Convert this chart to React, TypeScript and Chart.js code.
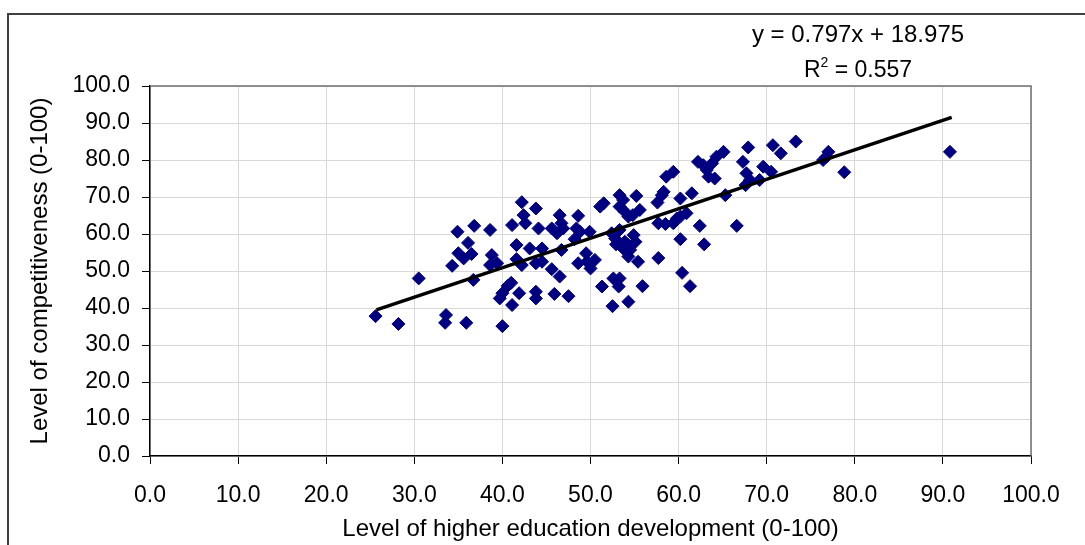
import React, { useEffect, useRef } from 'react';
import { Chart, registerables } from 'chart.js';

Chart.register(...registerables);

// Level of higher education development (0-100)
const educationX = [
  25.6, 28.2, 30.5, 33.6, 33.5, 35.9, 40.0, 34.3, 34.9, 36.8,
  38.6, 36.1, 35.0, 35.6, 36.5, 36.7, 38.8, 38.6, 39.4, 41.1,
  41.6, 42.2, 40.6, 41.0, 39.7, 40.0, 41.1, 41.6, 41.9, 43.8,
  42.4, 42.6, 44.1, 46.5, 48.6, 45.6, 46.2, 46.7, 46.9, 48.4,
  48.2, 48.8, 49.9, 43.1, 44.5, 42.2, 43.8, 44.5, 46.7, 45.6,
  46.5, 48.6, 49.5, 50.0, 50.5, 49.6, 43.8, 43.8, 45.9, 47.5,
  51.1, 51.5, 53.3, 53.7, 55.2, 53.3, 53.9, 55.6, 54.3, 54.8,
  52.4, 52.8, 53.3, 53.9, 54.3, 54.9, 55.1, 53.7, 54.5, 54.3,
  55.4, 57.7, 57.6, 58.1, 57.7, 58.5, 51.3, 52.6, 53.3, 53.2,
  55.9, 52.5, 54.3, 62.2, 62.8, 63.2, 63.8, 64.3, 65.1, 63.4,
  64.1, 67.9, 67.3, 67.7, 67.6, 68.1, 69.6, 70.5, 69.2, 70.7,
  71.6, 73.3, 58.6, 59.4, 58.3, 60.2, 61.5, 65.3, 59.4, 59.8,
  60.2, 60.9, 62.4, 66.6, 60.2, 62.9, 60.4, 61.3, 77.0, 76.4,
  76.8, 78.8, 90.8, 52.9,
];

// Level of competitiveness (0-100)
const competitivenessY = [
  37.8, 35.7, 48.0, 38.1, 36.0, 36.0, 35.1, 51.4, 60.6, 62.2,
  61.1, 57.6, 54.8, 53.4, 54.6, 47.6, 54.3, 51.6, 52.1, 62.4,
  57.0, 68.6, 46.0, 46.8, 42.6, 44.0, 40.8, 53.2, 44.0, 66.9,
  65.1, 62.9, 61.5, 65.1, 64.9, 61.5, 60.2, 62.9, 61.5, 61.5,
  58.6, 60.6, 60.6, 56.1, 56.1, 51.6, 52.1, 52.5, 55.7, 50.5,
  48.5, 52.1, 54.8, 50.7, 53.0, 52.5, 44.4, 42.6, 43.8, 43.2,
  67.4, 68.3, 70.5, 69.2, 70.3, 67.4, 66.0, 66.5, 64.7, 65.1,
  60.2, 58.8, 61.1, 57.9, 57.0, 59.7, 57.9, 56.1, 55.7, 53.9,
  52.5, 53.5, 68.5, 70.5, 62.9, 62.7, 45.8, 48.0, 48.0, 45.8,
  45.9, 40.5, 41.7, 79.5, 78.6, 77.3, 79.1, 80.9, 82.2, 75.5,
  75.0, 83.4, 79.5, 76.4, 73.2, 74.6, 78.2, 76.8, 74.6, 84.0,
  81.8, 85.0, 75.5, 76.8, 71.4, 69.6, 71.0, 70.5, 62.9, 64.2,
  64.7, 65.6, 62.2, 62.2, 58.6, 57.2, 49.5, 45.9, 82.2, 80.0,
  80.9, 76.7, 82.2, 57.2,
];

// Linear trend line end points (y = 0.797x + 18.975)
const trendX = [25.7, 91.0];
const trendY = [39.5, 91.5];

const equationLabel = 'y = 0.797x + 18.975';
const r2Base = 'R';
const r2Sup = '2';
const r2Rest = ' = 0.557';

const xTitle = 'Level of higher education development (0-100)';
const yTitle = 'Level of competitiveness (0-100)';

const FONT = '"Liberation Sans", Arial, sans-serif';

const decorPlugin = {
  id: 'decor',
  beforeDraw(chart: any) {
    const ctx = chart.ctx;
    ctx.save();
    ctx.fillStyle = '#ffffff';
    ctx.fillRect(0, 0, chart.width, chart.height);
    ctx.strokeStyle = '#404040';
    ctx.lineWidth = 2;
    ctx.beginPath();
    ctx.moveTo(8, chart.height + 2);
    ctx.lineTo(8, 14);
    ctx.lineTo(chart.width + 2, 14);
    ctx.stroke();
    ctx.restore();
  },
  beforeDatasetsDraw(chart: any) {
    const { ctx, chartArea } = chart;
    ctx.save();
    ctx.strokeStyle = '#707070';
    ctx.lineWidth = 1.5;
    ctx.beginPath();
    ctx.moveTo(chartArea.left, chartArea.top);
    ctx.lineTo(chartArea.right, chartArea.top);
    ctx.lineTo(chartArea.right, chartArea.bottom);
    ctx.stroke();
    ctx.restore();
  },
  afterDraw(chart: any) {
    const ctx = chart.ctx;
    ctx.save();
    ctx.fillStyle = '#000';
    ctx.textBaseline = 'middle';
    ctx.textAlign = 'center';
    ctx.font = `24px ${FONT}`;
    const cx = 858;
    ctx.fillText(equationLabel, cx, 35);
    // R² line
    ctx.font = `23px ${FONT}`;
    const wBase = ctx.measureText(r2Base).width;
    const wRest = ctx.measureText(r2Rest).width;
    ctx.font = `14px ${FONT}`;
    const wSup = ctx.measureText(r2Sup).width;
    const total = wBase + wSup + wRest;
    let x = cx - total / 2;
    ctx.textAlign = 'left';
    ctx.font = `23px ${FONT}`;
    ctx.fillText(r2Base, x, 71);
    x += wBase;
    ctx.font = `14px ${FONT}`;
    ctx.fillText(r2Sup, x, 63);
    x += wSup;
    ctx.font = `23px ${FONT}`;
    ctx.fillText(r2Rest, x, 71);
    ctx.restore();
  },
};

export default function App() {
  const canvasRef = useRef<HTMLCanvasElement | null>(null);

  useEffect(() => {
    const canvas = canvasRef.current;
    if (!canvas) return;
    const points = educationX.map((x, i) => ({ x, y: competitivenessY[i] }));
    const trend = trendX.map((x, i) => ({ x, y: trendY[i] }));

    const chart = new Chart(canvas, {
      type: 'scatter',
      data: {
        datasets: [
          {
            type: 'line',
            label: 'Trend',
            data: trend,
            borderColor: '#000000',
            borderWidth: 3.5,
            pointRadius: 0,
            fill: false,
            tension: 0,
          } as any,
          {
            type: 'scatter',
            label: 'Regions',
            data: points,
            pointStyle: 'rectRot',
            pointRadius: 6.5,
            pointHoverRadius: 6.5,
            backgroundColor: '#000080',
            borderColor: '#000080',
            borderWidth: 1,
          } as any,
        ],
      },
      options: {
        responsive: false,
        animation: false,
        devicePixelRatio: 1,
        layout: { padding: { top: 86, right: 54, left: 0, bottom: 0 } },
        plugins: {
          legend: { display: false },
          tooltip: { enabled: false },
        },
        scales: {
          x: {
            type: 'linear',
            min: 0,
            max: 100,
            afterFit: (s: any) => {
              s.height = 89;
            },
            ticks: {
              stepSize: 10,
              autoSkip: false,
              maxRotation: 0,
              color: '#000',
              padding: 18,
              font: { family: FONT, size: 23 },
              callback: (v: any) => Number(v).toFixed(1),
            },
            grid: {
              color: '#d9d9d9',
              lineWidth: 1,
              tickColor: '#000',
              tickLength: 8,
            },
            border: { color: '#000', width: 1.5 },
            title: {
              display: true,
              text: xTitle,
              color: '#000',
              font: { family: FONT, size: 24 },
              padding: { top: 0, bottom: 1 },
            },
          },
          y: {
            type: 'linear',
            min: 0,
            max: 100,
            afterFit: (s: any) => {
              s.width = 150;
            },
            ticks: {
              stepSize: 10,
              autoSkip: false,
              color: '#000',
              padding: 12,
              font: { family: FONT, size: 23 },
              callback: (v: any) => Number(v).toFixed(1),
            },
            grid: {
              color: '#d9d9d9',
              lineWidth: 1,
              tickColor: '#000',
              tickLength: 8,
            },
            border: { color: '#000', width: 1.5 },
            title: {
              display: true,
              text: yTitle,
              color: '#000',
              font: { family: FONT, size: 24 },
              padding: { top: 26, bottom: 0 },
            },
          },
        },
      } as any,
      plugins: [decorPlugin],
    });

    return () => {
      chart.destroy();
    };
  }, []);

  return (
    <div style={{ position: 'fixed', left: 0, top: 0, width: 1085, height: 545, background: '#fff' }}>
      <canvas ref={canvasRef} width={1085} height={545} style={{ display: 'block', width: 1085, height: 545 }} />
    </div>
  );
}
